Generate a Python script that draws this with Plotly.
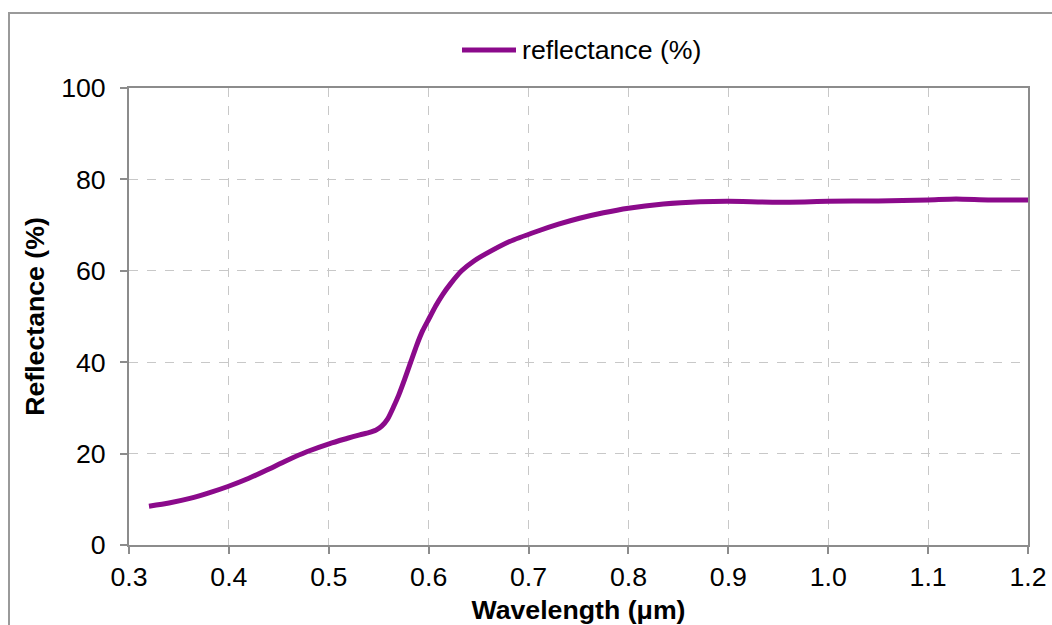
import plotly.graph_objects as go

wavelength = [0.32, 0.34, 0.361, 0.38, 0.399, 0.42, 0.438, 0.458, 0.478, 0.501, 0.518, 0.531,
              0.540, 0.547, 0.553, 0.559, 0.565, 0.570, 0.576, 0.582, 0.588, 0.594, 0.600,
              0.607, 0.614, 0.622, 0.633, 0.645, 0.658, 0.681, 0.708, 0.730, 0.751, 0.775,
              0.800, 0.835, 0.872, 0.90, 0.95, 1.00, 1.05, 1.10, 1.128, 1.16, 1.20]
reflectance = [8.5, 9.2, 10.2, 11.4, 12.8, 14.6, 16.4, 18.5, 20.4, 22.2, 23.3, 24.1,
               24.6, 25.1, 26.0, 27.6, 30.3, 32.8, 36.3, 40.0, 43.7, 46.9, 49.4,
               52.3, 54.8, 57.2, 60.0, 62.1, 63.8, 66.4, 68.6, 70.2, 71.5, 72.7,
               73.7, 74.6, 75.1, 75.2, 75.0, 75.2, 75.3, 75.5, 75.7, 75.5, 75.5]

x_ticks = [0.3, 0.4, 0.5, 0.6, 0.7, 0.8, 0.9, 1.0, 1.1, 1.2]
x_ticklabels = ["0.3", "0.4", "0.5", "0.6", "0.7", "0.8", "0.9", "1.0", "1.1", "1.2"]
y_ticks = [0, 20, 40, 60, 80, 100]
series_name = "reflectance (%)"

FONT = "Liberation Sans, Arial, sans-serif"
FS = 26.7
LINE_COLOR = "#8B0A8B"

fig = go.Figure()
fig.add_trace(go.Scatter(
    x=wavelength, y=reflectance, mode="lines", name=series_name, showlegend=False,
    line=dict(color=LINE_COLOR, width=5, shape="spline", smoothing=0.6),
))

L, R, T, B = 129, 24, 88, 80
W, H = 1052, 625
pw, ph = W - L - R, H - T - B

def px_to_paper_x(px):
    return (px - L) / pw

def px_to_paper_y(py):
    return (H - B - py) / ph

# outer chart border
fig.add_shape(type="rect", xref="paper", yref="paper",
              x0=px_to_paper_x(9), x1=px_to_paper_x(1080),
              y0=px_to_paper_y(660), y1=px_to_paper_y(13),
              line=dict(color="#9A9A9A", width=2), fillcolor="rgba(0,0,0,0)", layer="below")

# legend (drawn manually to match the long line sample)
fig.add_shape(type="line", xref="paper", yref="paper",
              x0=px_to_paper_x(462), x1=px_to_paper_x(516),
              y0=px_to_paper_y(50), y1=px_to_paper_y(50),
              line=dict(color=LINE_COLOR, width=5))
fig.add_annotation(xref="paper", yref="paper", x=px_to_paper_x(520), y=px_to_paper_y(50),
                   text=series_name, showarrow=False, xanchor="left", yanchor="middle",
                   font=dict(family=FONT, size=FS, color="#000"))

axis_common = dict(
    showline=True, linecolor="#8C8C8C", linewidth=2, mirror=True,
    showgrid=True, gridcolor="#C8C8C8", griddash="dash", gridwidth=1.3,
    ticks="outside", ticklen=7, tickcolor="#8C8C8C", tickwidth=2,
    tickfont=dict(family=FONT, size=FS, color="#000000"),
    zeroline=False, automargin=False,
)

fig.update_xaxes(range=[0.3, 1.2], tickvals=x_ticks, ticktext=x_ticklabels,
                 ticklabelstandoff=0,
                 title=dict(text="<b>Wavelength (μm)</b>", font=dict(family=FONT, size=FS, color="#000"), standoff=9),
                 **axis_common)
fig.update_yaxes(range=[0, 100], tickvals=y_ticks,
                 ticklabelstandoff=9,
                 title=dict(text="<b>Reflectance (%)</b>", font=dict(family=FONT, size=FS, color="#000"), standoff=9),
                 **axis_common)

fig.update_layout(
    width=W, height=H,
    margin=dict(l=L, r=R, t=T, b=B),
    paper_bgcolor="white", plot_bgcolor="white",
    font=dict(family=FONT, color="#000"),
    showlegend=False,
)

fig.write_html("out.html", config={"displayModeBar": False},
               post_script="document.body.style.margin='0px';")
